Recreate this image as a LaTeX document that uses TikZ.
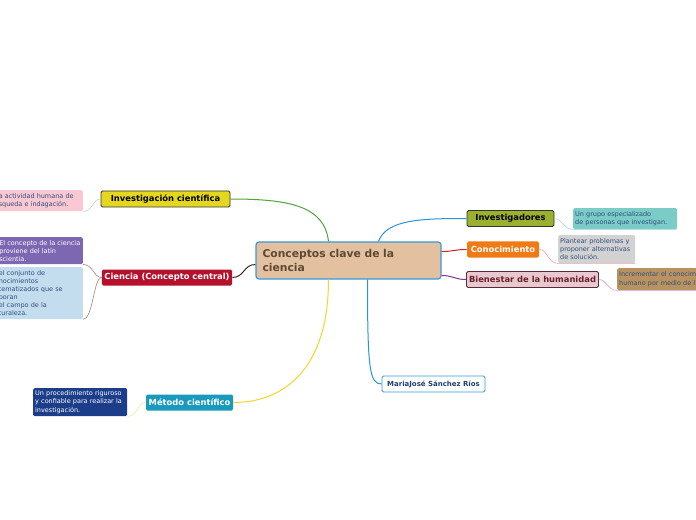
\documentclass[tikz,border=0pt]{standalone}
\usepackage{fontspec}
\setmainfont{DejaVu Sans}
\usepackage{xcolor}
\usetikzlibrary{positioning}

\definecolor{rootfill}{HTML}{E2C0A0}
\definecolor{rootline}{HTML}{3A9AD9}
\definecolor{roottext}{HTML}{5C4A32}
\definecolor{notetext}{HTML}{2F4F7F}

\begin{document}
\begin{tikzpicture}[
    x=1bp, y=-1bp,
    rootbox/.style={rectangle, draw=rootline, line width=1.2bp, fill=rootfill, rounded corners=3bp, text=roottext, font=\fontsize{10.8}{14}\selectfont\bfseries, align=left, text width=172bp, minimum width=185bp, minimum height=37bp, inner xsep=6bp},
    topic/.style={rectangle, rounded corners=1.5bp, line width=0.8bp, font=\fontsize{8.4}{10}\selectfont\bfseries, minimum height=16bp, inner xsep=2.5bp, inner ysep=1bp},
    note/.style={rectangle, rounded corners=1.5bp, text=notetext, font=\fontsize{6.5}{8.1}\selectfont, align=left, inner xsep=2bp, inner ysep=2bp},
    link/.style={line width=1bp},
    thin link/.style={line width=0.6bp}
]
    \useasboundingbox (0,0) rectangle (696,520);
    \clip (0,0) rectangle (696,520);

    % Central topic
    \node[rootbox] (root) at (348.5,260.5) {Conceptos clave de la\\ciencia};

    % Left branches
    \node[topic, draw=black!80, fill={rgb,255:red,229;green,215;blue,30}, minimum width=129bp] (invcien) at (165.5,199) {Investigación científica};
    \node[topic, fill={rgb,255:red,181;green,17;blue,44}, text=white, minimum width=130bp] (ciencia) at (167,277.5) {Ciencia (Concepto central)};
    \node[topic, fill={rgb,255:red,26;green,153;blue,191}, text=white, minimum width=87bp] (metodo) at (189.5,402.5) {Método científico};

    % Right branches
    \node[topic, draw=black!80, fill={rgb,255:red,155;green,177;blue,45}, minimum width=87bp] (investig) at (510.5,218.5) {Investigadores};
    \node[topic, fill={rgb,255:red,240;green,122;blue,22}, text=white, minimum width=72bp] (conoc) at (503,249.5) {Conocimiento};
    \node[topic, draw={rgb,255:red,90;green,42;blue,53}, fill={rgb,255:red,232;green,201;blue,207}, text={rgb,255:red,107;green,30;blue,46}, minimum width=131bp] (bienestar) at (532.5,279.5) {Bienestar de la humanidad};
    \node[topic, draw=rootline, fill=white, text={rgb,255:red,31;green,63;blue,110}, font=\fontsize{7}{8}\selectfont\bfseries, minimum width=103bp] (maria) at (433.5,384) {MariaJosé Sánchez Ríos};

    % Notes
    \node[note, anchor=north east, fill={rgb,255:red,249;green,200;blue,210}, text width=82bp, minimum height=21bp] (notainv) at (83,190) {a actividad humana de\\squeda e indagación.};
    \node[note, anchor=north east, fill={rgb,255:red,125;green,102;blue,178}, text=white, inner xsep=0.5bp, text width=83bp, minimum height=27bp] (notalat) at (83,237) {El concepto de la ciencia\\ proviene del latín\\scientia.};
    \node[note, anchor=north east, fill={rgb,255:red,195;green,221;blue,239}, text width=82bp, minimum height=52bp] (notacon) at (83,267) {el conjunto de\\nocimientos\\tematizados que se\\boran\\ el campo de la\\turaleza.};
    \node[note, anchor=north west, fill={rgb,255:red,28;green,62;blue,138}, text=white, text width=90bp, minimum height=28bp] (notamet) at (33,388) {Un procedimiento riguroso\\y confiable para realizar la\\investigación.};
    \node[note, anchor=north west, fill={rgb,255:red,123;green,204;blue,198}, text width=100bp, minimum height=21bp] (notagru) at (573,208) {Un grupo especializado\\de personas que investigan.};
    \node[note, anchor=north west, fill={rgb,255:red,210;green,210;blue,210}, text width=73bp, minimum height=28bp] (notapla) at (558,235) {Plantear problemas y\\proponer alternativas\\de solución.};
    \node[note, anchor=north west, fill={rgb,255:red,184;green,147;blue,96}, text width=100bp, minimum height=22bp] (notainc) at (617,268) {Incrementar el conocim\\humano por medio de l};

    % Main connectors
    \draw[link, color={rgb,255:red,79;green,164;blue,58}] ([xshift=-20bp]root.north) .. controls +(-4,-35) and +(60,0) .. (invcien.east);
    \draw[link, color={rgb,255:red,58;green,42;blue,32}] ([yshift=-4bp]root.west) .. controls +(-12,0) and +(12,0) .. (ciencia.east);
    \draw[link, color={rgb,255:red,242;green,213;blue,42}] ([xshift=-20bp]root.south) .. controls +(0,90) and +(50,0) .. (metodo.east);
    \draw[link, color={rgb,255:red,42;green,148;blue,216}] ([xshift=30bp]root.north) .. controls +(8,-22) and +(-45,0) .. (investig.west);
    \draw[link, color={rgb,255:red,200;green,35;blue,44}] ([yshift=9bp]root.east) .. controls +(12,0) and +(-12,0) .. (conoc.west);
    \draw[link, color={rgb,255:red,122;green,58;blue,144}] ([yshift=-15bp]root.east) .. controls +(12,0) and +(-12,0) .. (bienestar.west);
    \draw[link, color={rgb,255:red,42;green,148;blue,216}] ([xshift=19bp]root.south) .. controls +(0,90) and +(-12,0) .. (maria.west);

    % Note connectors
    \draw[thin link, color={rgb,255:red,184;green,221;blue,176}] (notainv.south east) .. controls +(10,0) and +(-8,0) .. (invcien.west);
    \draw[thin link, color={rgb,255:red,154;green,136;blue,128}] (notalat.south east) .. controls +(10,0) and +(-8,0) .. (ciencia.west);
    \draw[thin link, color={rgb,255:red,154;green,136;blue,128}] (notacon.south east) .. controls +(10,0) and +(-8,0) .. (ciencia.west);
    \draw[thin link, color={rgb,255:red,245;green,229;blue,154}] (notamet.south east) .. controls +(10,0) and +(-8,0) .. (metodo.west);
    \draw[thin link, color={rgb,255:red,158;green,211;blue,236}] (investig.east) .. controls +(8,0) and +(-10,0) .. (notagru.south west) -- (notagru.south east);
    \draw[thin link, color={rgb,255:red,232;green,160;blue,170}] (conoc.east) .. controls +(8,0) and +(-10,0) .. (notapla.south west) -- (notapla.south east);
    \draw[thin link, color={rgb,255:red,200;green,160;blue,216}] (bienestar.east) .. controls +(8,0) and +(-10,0) .. (notainc.south west) -- (notainc.south east);
\end{tikzpicture}
\end{document}
